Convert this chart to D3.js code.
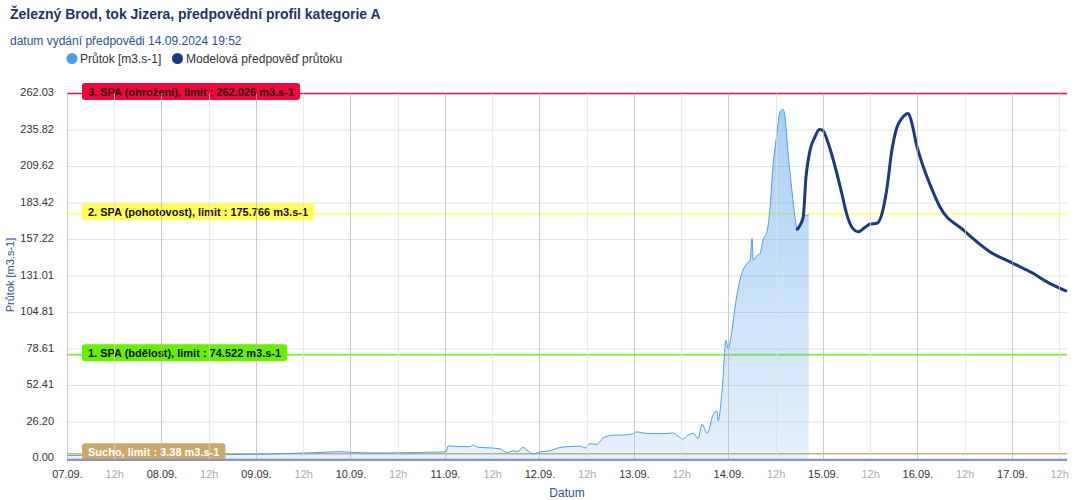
<!DOCTYPE html>
<html><head><meta charset="utf-8">
<script src="https://cdn.jsdelivr.net/npm/d3@7"></script>
<style>
body{margin:0;background:#fff;}
svg{font-family:"Liberation Sans",Arial,sans-serif;}
</style></head>
<body><svg id="c" width="1077" height="500"></svg>
<script>
// ---- data ----
const startDate = Date.UTC(2024, 8, 7, 0, 0);
const obsHours = [0,8.4,16,24.1,33.8,41.4,48,56.6,64.3,69.3,71.9,77,82,87.1,92.2,96.3,96.8,99.8,102.4,103.1,104.4,107.4,110,111.7,113.3,114.5,115.8,116.8,118.4,120.1,122.7,125.2,127.7,130.3,131.6,132.8,134.6,136.1,138.7,141.7,143.5,144.8,146.8,149.3,151.9,153.9,155.2,156.4,157.7,159,160.3,161.3,162.6,164.1,165.1,165.4,166.4,167.4,167.9,168.9,169.7,170.9,172.7,173.5,174,174.3,175.3,176,176.8,177.8,178.5,179.3,180.3,181.1,181.9,182.4,183.1,184.2,184.9,185.5,186.2,187.0,188.4];
const obsValues = [2.2,2.3,2.4,2.5,2.7,2.9,3.0,3.6,4.3,4.9,4.5,4.0,4.0,4.2,4.5,4.7,9.0,8.6,8.5,9.7,8.1,7.6,6.9,4.3,5.4,4.9,8.1,6.1,3.3,4.7,5.6,7.9,8.6,8.9,7.6,10.6,10.1,14.6,16.7,16.9,17.6,19.1,18.1,17.9,17.9,18.3,16.1,14.0,16.6,18.1,14.5,24.6,18.1,31.2,34.1,27.1,49.1,85,79,92,109,128,140,142.5,158,142.5,146,147,157,162.8,178,209,233,249,250.7,245,221,190.6,173.6,164.6,167.6,173.6,175];
const fcHours = [185.5,186.2,187.0,187.7,188.7,190.0,191.1,191.9,193.4,195.1,196.8,198.0,199.3,201.0,202.7,204.0,205.7,206.9,208.2,209.5,210.7,212.0,213.7,214.5,215.8,217.5,219.6,221.7,227.7,234.4,240.4,245.4,248.8,253.7];
const fcValues = [164.6,167.6,173.6,202,221,231,236.3,235.8,226,209.5,190.4,176,166.4,162.8,166,168.4,168.9,174.8,192.8,221,237,244,247.8,241.8,225,209.5,194,180.8,164,148.5,140,133,127,120.3];
const yTicks = [0, 26.20, 52.41, 78.61, 104.81, 131.01, 157.22, 183.42, 209.62, 235.82, 262.03];
const dayLabels = ["07.09.","08.09.","09.09.","10.09.","11.09.","12.09.","13.09.","14.09.","15.09.","16.09.","17.09."];
const thrValues = [262.026, 175.766, 74.522, 3.38];
const thrLabels = ["3. SPA (ohrožení), limit : 262.026 m3.s-1","2. SPA (pohotovost), limit : 175.766 m3.s-1","1. SPA (bdělost), limit : 74.522 m3.s-1","Sucho, limit : 3.38 m3.s-1"];
const titleText = "Železný Brod, tok Jizera, předpovědní profil kategorie A";
const subtitleText = "datum vydání předpovědi 14.09.2024 19:52";
const legendLabels = ["Průtok [m3.s-1]", "Modelová předpověď průtoku"];

// ---- styles ----
const thrStyle = [
  {line:"#dc1547", box:"#f0083c", text:"#2a0a10", w:1.5},
  {line:"#ffff8a", box:"#ffff5c", text:"#111", w:2},
  {line:"#8cf04a", box:"#66f000", text:"#111", w:2},
  {line:"#d2b27a", box:"#c8a96c", text:"#fff", w:1.5}
];
const obsColor = "#4d9de8", fcColor = "#1c3a7e";

const svg = d3.select("#c");
const L = 67, R = 1067;
const toDate = h => new Date(startDate + h * 3600e3);
const x = d3.scaleUtc().domain([toDate(0), toDate(254)]).range([L, R]);
const y = d3.scaleLinear().domain([0, 262.03]).range([458.5, 93.6]);
const bottom = 460;

// title
svg.append("text").attr("x",10).attr("y",19).attr("font-size",14).attr("font-weight","bold")
  .attr("fill","#1d3461").text(titleText);
svg.append("text").attr("x",10).attr("y",45).attr("font-size",12).attr("fill","#2b4f8f").text(subtitleText);
// legend
const lg = svg.append("g");
lg.append("circle").attr("cx",72).attr("cy",58.5).attr("r",5.5).attr("fill",obsColor);
lg.append("text").attr("x",80).attr("y",62.5).attr("font-size",12).attr("fill","#333").text(legendLabels[0]);
lg.append("circle").attr("cx",177.5).attr("cy",58.5).attr("r",5.5).attr("fill",fcColor);
lg.append("text").attr("x",186).attr("y",62.5).attr("font-size",12).attr("fill","#333").text(legendLabels[1]);

// horizontal grid
const gridHours = d3.range(0, 254, 12);
yTicks.forEach(t=>{
  svg.append("line").attr("x1",L).attr("x2",R).attr("y1",y(t)).attr("y2",y(t))
    .attr("stroke","#e3e3e3").attr("stroke-width",1);
});

// threshold lines
thrValues.forEach((v,i)=>{
  const s = thrStyle[i], yy = y(v);
  svg.append("line").attr("x1",L).attr("x2",R).attr("y1",yy).attr("y2",yy)
    .attr("stroke",s.line).attr("stroke-width",s.w);
});

// area + lines
const defs = svg.append("defs");
const grad = defs.append("linearGradient").attr("id","ag").attr("gradientUnits","userSpaceOnUse")
  .attr("x1",0).attr("x2",0).attr("y1",93.6).attr("y2",bottom);
grad.append("stop").attr("offset",0).attr("stop-color",obsColor).attr("stop-opacity",0.5);
grad.append("stop").attr("offset",1).attr("stop-color",obsColor).attr("stop-opacity",0.14);

const obs = obsHours.map((h,i)=>({d:toDate(h), v:obsValues[i]}));
const fc = fcHours.map((h,i)=>({d:toDate(h), v:fcValues[i]}));

svg.append("path").datum(obs).attr("fill","url(#ag)")
  .attr("d", d3.area().x(d=>x(d.d)).y0(bottom).y1(d=>y(d.v)).curve(d3.curveMonotoneX));
svg.append("path").datum(obs).attr("fill","none").attr("stroke",obsColor).attr("stroke-width",1)
  .attr("d", d3.line().x(d=>x(d.d)).y(d=>y(d.v)).curve(d3.curveMonotoneX));
svg.append("path").datum(fc).attr("fill","none").attr("stroke",fcColor).attr("stroke-width",3)
  .attr("stroke-linejoin","round").attr("stroke-linecap","round")
  .attr("d", d3.line().x(d=>x(d.d)).y(d=>y(d.v)).curve(d3.curveMonotoneX));

// threshold labels
thrValues.forEach((v,i)=>{
  const s = thrStyle[i], yy = y(v);
  const g = svg.append("g");
  const t = g.append("text").attr("x",88).attr("y",yy+2.5).attr("font-size",11).attr("font-weight","bold")
    .attr("fill",s.text).text(thrLabels[i]);
  const w = t.node().getComputedTextLength();
  g.insert("rect","text").attr("x",82).attr("y",yy-10.5).attr("width",w+12).attr("height",17)
    .attr("rx",3).attr("fill",s.box);
});

// vertical grid
gridHours.forEach(h=>{
  const xx = Math.round(x(toDate(h)))+0.5;
  svg.append("line").attr("x1",xx).attr("x2",xx).attr("y1",93.6).attr("y2",bottom)
    .attr("stroke", h%24===0 ? "#b4b4b4" : "#e0e0e0").attr("stroke-width",1)
    .attr("stroke-opacity", 0.7);
});

// axes
svg.append("line").attr("x1",L).attr("x2",R).attr("y1",bottom).attr("y2",bottom)
  .attr("stroke","#8a94c2").attr("stroke-width",2);

const yAxis = svg.append("g").attr("transform",`translate(${L-10},-1.5)`)
  .call(d3.axisLeft(y).tickValues(yTicks).tickFormat(d3.format(".2f")).tickSize(0));
yAxis.select(".domain").remove();
yAxis.selectAll("text").attr("font-size",11).attr("fill","#333").attr("font-family","Liberation Sans, Arial, sans-serif");

const xAxis = svg.append("g").attr("transform",`translate(0,${bottom})`)
  .call(d3.axisBottom(x).tickValues(gridHours.map(toDate)).tickSize(0).tickPadding(10)
    .tickFormat((d,i)=> gridHours[i]%24===0 ? dayLabels[gridHours[i]/24] : "12h"));
xAxis.select(".domain").remove();
xAxis.selectAll("text").attr("font-size",11).attr("font-family","Liberation Sans, Arial, sans-serif")
  .attr("fill",(d,i)=> gridHours[i]%24===0 ? "#333" : "#aaa");

svg.append("text").attr("transform","translate(14,275) rotate(-90)").attr("text-anchor","middle")
  .attr("font-size",11).attr("fill","#2b4f8f").text("Průtok [m3.s-1]");
svg.append("text").attr("x",567).attr("y",497).attr("text-anchor","middle")
  .attr("font-size",12).attr("fill","#2b4f8f").text("Datum");
</script></body></html>
